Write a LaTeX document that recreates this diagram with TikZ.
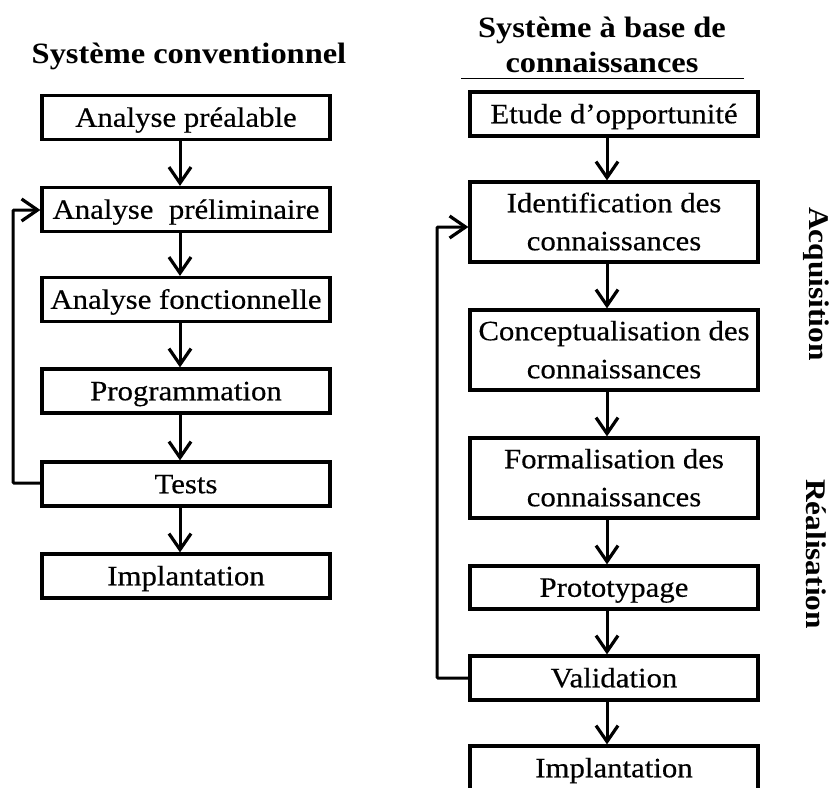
\documentclass[tikz,border=0pt]{standalone}
\usepackage{fontspec}
\setmainfont{Liberation Serif}[FakeStretch=1.1, UprightFeatures={FakeBold=0.4}]
\usetikzlibrary{arrows.meta}
\begin{document}
\begin{tikzpicture}[x=1pt,y=-1pt,
  box/.style={draw, line width=3.2pt, minimum width=288pt, inner sep=0pt,
    align=center, font=\fontsize{28}{38}\selectfont},
  onebox/.style={box, minimum height=44pt, text height=18.5pt, text depth=0pt},
  twobox/.style={box, minimum height=80pt, text height=56.5pt, text depth=0pt},
  arr/.style={line width=3pt, -{Straight Barb[length=16pt,width=22pt,line width=3.2pt]}},
  loop/.style={line width=3pt, rounded corners=1pt, -{Straight Barb[length=16pt,width=22pt,line width=3.2pt]}},
  ttl/.style={font=\fontsize{29.5}{35}\selectfont\bfseries, align=center},
  side/.style={font=\fontsize{28.5}{34}\selectfont\bfseries, rotate=-90}]
\useasboundingbox (0,0) rectangle (835,787);
\clip (0,0) rectangle (835,787);

% Left column: conventional system
\node[ttl, anchor=base] (tl) at (189,63) {Système conventionnel};
\node[onebox] (l1) at (186,117.5) {Analyse préalable};
\node[onebox] (l2) at (186,209.5) {Analyse\ \ préliminaire};
\node[onebox] (l3) at (186,299.5) {Analyse fonctionnelle};
\node[onebox] (l4) at (186,391) {Programmation};
\node[onebox] (l5) at (186,484) {Tests};
\node[onebox] (l6) at (186,576) {Implantation};

\foreach \a/\b in {l1/l2,l2/l3,l3/l4,l4/l5,l5/l6}
  \draw[arr] ([xshift=-6pt]\a.south) -- ([xshift=-6pt]\b.north);
\coordinate (lb) at (13,483);
\coordinate (lt) at (13,210);
\draw[loop] (l5.west |- lb) -- (lb) -- (lt) -- (l2.west |- lt);

% Right column: knowledge-based system
\node[ttl, anchor=base] (tr1) at (602,37) {Système à base de};
\node[ttl, anchor=base] (tr2) at (602,72) {connaissances};
\draw[line width=1pt] (461,78) -- (744,78);
\node[onebox] (r1) at (614,114) {Etude d’opportunité};
\node[twobox] (r2) at (614,222) {Identification des\\connaissances};
\node[twobox] (r3) at (614,350) {Conceptualisation des\\connaissances};
\node[twobox] (r4) at (614,478) {Formalisation des\\connaissances};
\node[onebox, minimum height=43pt] (r5) at (614,587.5) {Prototypage};
\node[onebox] (r6) at (614,678) {Validation};
\node[onebox] (r7) at (614,768) {Implantation};

\foreach \a/\b in {r1/r2,r2/r3,r3/r4,r4/r5,r5/r6,r6/r7}
  \draw[arr] ([xshift=-7pt]\a.south) -- ([xshift=-7pt]\b.north);
\coordinate (rb) at (437,678);
\coordinate (rt) at (437,227);
\draw[loop] (r6.west |- rb) -- (rb) -- (rt) -- (r2.west |- rt);

% Phase labels
\node[side] (acq) at (816,284) {Acquisition};
\node[side] (rea) at (816,554) {Réalisation};
\end{tikzpicture}
\end{document}
